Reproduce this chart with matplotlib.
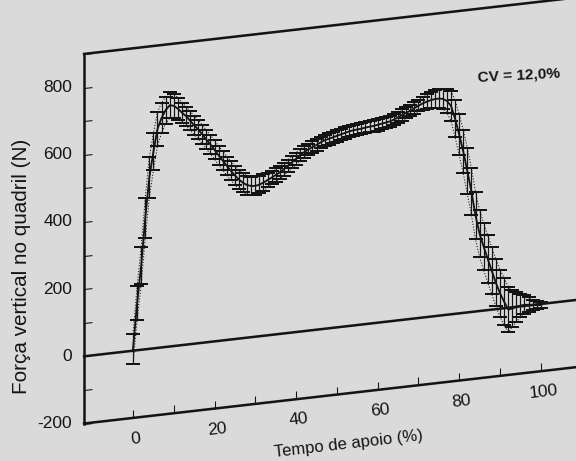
import numpy as np
import matplotlib
matplotlib.use('Agg')
import matplotlib.pyplot as plt
from matplotlib.transforms import Affine2D
import mpl_toolkits.axisartist.floating_axes as floating_axes
from mpl_toolkits.axisartist.grid_finder import FixedLocator, DictFormatter

plt.rcParams['font.family'] = ['Liberation Sans', 'DejaVu Sans']

# stance time (%) and mean hip vertical force (N) with SD
tempo = np.arange(0, 101)
forca = [5, 140, 250, 390, 510, 585, 652, 683, 705, 718,
         715, 705, 692, 680, 665, 650, 636, 620, 603, 587,
         570, 552, 535, 518, 502, 487, 473, 462, 454, 450,
         449, 451, 456, 462, 468, 474, 481, 489, 498, 507,
         516, 526, 533, 539, 545, 550, 556, 561, 564, 567,
         570, 573, 576, 579, 581, 582, 583, 585, 586, 587,
         589, 591, 593, 595, 599, 604, 610, 615, 620, 626,
         632, 637, 641, 644, 646, 646, 644, 636, 620, 580,
         532, 480, 420, 358, 285, 230, 190, 152, 115, 78,
         46, 20, -5, -4, 0, 2, 3, 2, 0, -2, -3]
dp = [45, 50, 55, 60, 60, 55, 50, 45, 40, 38,
      35, 33, 30, 28, 28, 28, 28, 28, 28, 28,
      28, 28, 28, 28, 28, 28, 28, 28, 28, 28,
      28, 26, 24, 22, 20, 20, 19, 19, 18, 18,
      18, 17, 17, 17, 17, 17, 17, 17, 17, 17,
      17, 17, 17, 17, 17, 17, 17, 17, 17, 17,
      17, 17, 17, 17, 17, 17, 17, 17, 17, 17,
      17, 20, 22, 24, 26, 28, 30, 35, 45, 55,
      60, 65, 68, 70, 70, 70, 70, 70, 70, 70,
      70, 70, 68, 55, 45, 35, 28, 22, 16, 12, 10]

xticks = list(range(0, 101, 10))
xlabels = {0: '0', 20: '20', 40: '40', 60: '60', 80: '80', 100: '100'}
yticks = list(range(-200, 901, 100))
ylabels = {-200: '-200', 0: '0', 200: '200', 400: '400', 600: '600', 800: '800'}
xlim = (-12, 115)
ylim = (-200, 900)

bg = '#dadada'
ink = '#141414'

fig = plt.figure(figsize=(6, 461 / 96), dpi=96, facecolor=bg)

# photo of the printed page is skewed: y' = y + k*x
k = 1.39
tr = Affine2D(np.array([[1, 0, 0], [k, 1, 0], [0, 0, 1.0]]))
helper = floating_axes.GridHelperCurveLinear(
    tr, extremes=(xlim[0], xlim[1], ylim[0], ylim[1]),
    grid_locator1=FixedLocator(xticks),
    grid_locator2=FixedLocator(yticks),
    tick_formatter1=DictFormatter(xlabels),
    tick_formatter2=DictFormatter(ylabels))

ax = fig.add_axes([0.137, 0.072, 0.917, 0.949],
                  axes_class=floating_axes.FloatingAxes, grid_helper=helper)
ax.set_aspect('auto')
ax.set_facecolor(bg)
ax.patch.set_facecolor(bg)

for side in ['left', 'bottom', 'top', 'right']:
    ax.axis[side].line.set_linewidth(1.9)
    ax.axis[side].line.set_color(ink)
for side in ['top', 'right']:
    ax.axis[side].toggle(ticks=False, ticklabels=False)

for side in ['left', 'bottom']:
    ax.axis[side].major_ticks.set_ticksize(6)
    ax.axis[side].major_ticks.set_linewidth(1.4)
    ax.axis[side].major_ticks.set_color(ink)
    ax.axis[side].major_ticklabels.set_fontsize(13)
    ax.axis[side].major_ticklabels.set_color(ink)
    ax.axis[side].label.set_color(ink)
ax.axis['left'].major_ticklabels.set_pad(9)
ax.axis['bottom'].major_ticklabels.set_pad(10)
ax.axis['bottom'].label.set_text('Tempo de apoio (%)')
ax.axis['bottom'].label.set_fontsize(12.5)
ax.axis['bottom'].label.set_pad(13)

fig.text(0.038, 0.423, 'Força vertical no quadril (N)', fontsize=15.5,
         color=ink, rotation=90, ha='center', va='center')

aux = ax.get_aux_axes(tr)

m = np.array(forca, dtype=float)
s = np.array(dp, dtype=float)

aux.plot(list(xlim), [0, 0], color=ink, lw=1.9, zorder=2)
aux.plot(tempo, m + s, color=ink, ls=':', lw=0.8, zorder=3)
aux.plot(tempo, m - s, color=ink, ls=':', lw=0.8, zorder=3)
aux.errorbar(tempo, m, yerr=s, fmt='none', ecolor=ink, elinewidth=0.9,
             capsize=5.2, capthick=1.5, zorder=3)
aux.plot(tempo, m, color=ink, lw=1.4, zorder=4)

fig.text(0.90, 0.837, 'CV = 12,0%', fontsize=11.5, color=ink,
         ha='center', va='center', fontweight='bold', rotation=3)

fig.savefig('out.png', dpi=96, facecolor=bg)
